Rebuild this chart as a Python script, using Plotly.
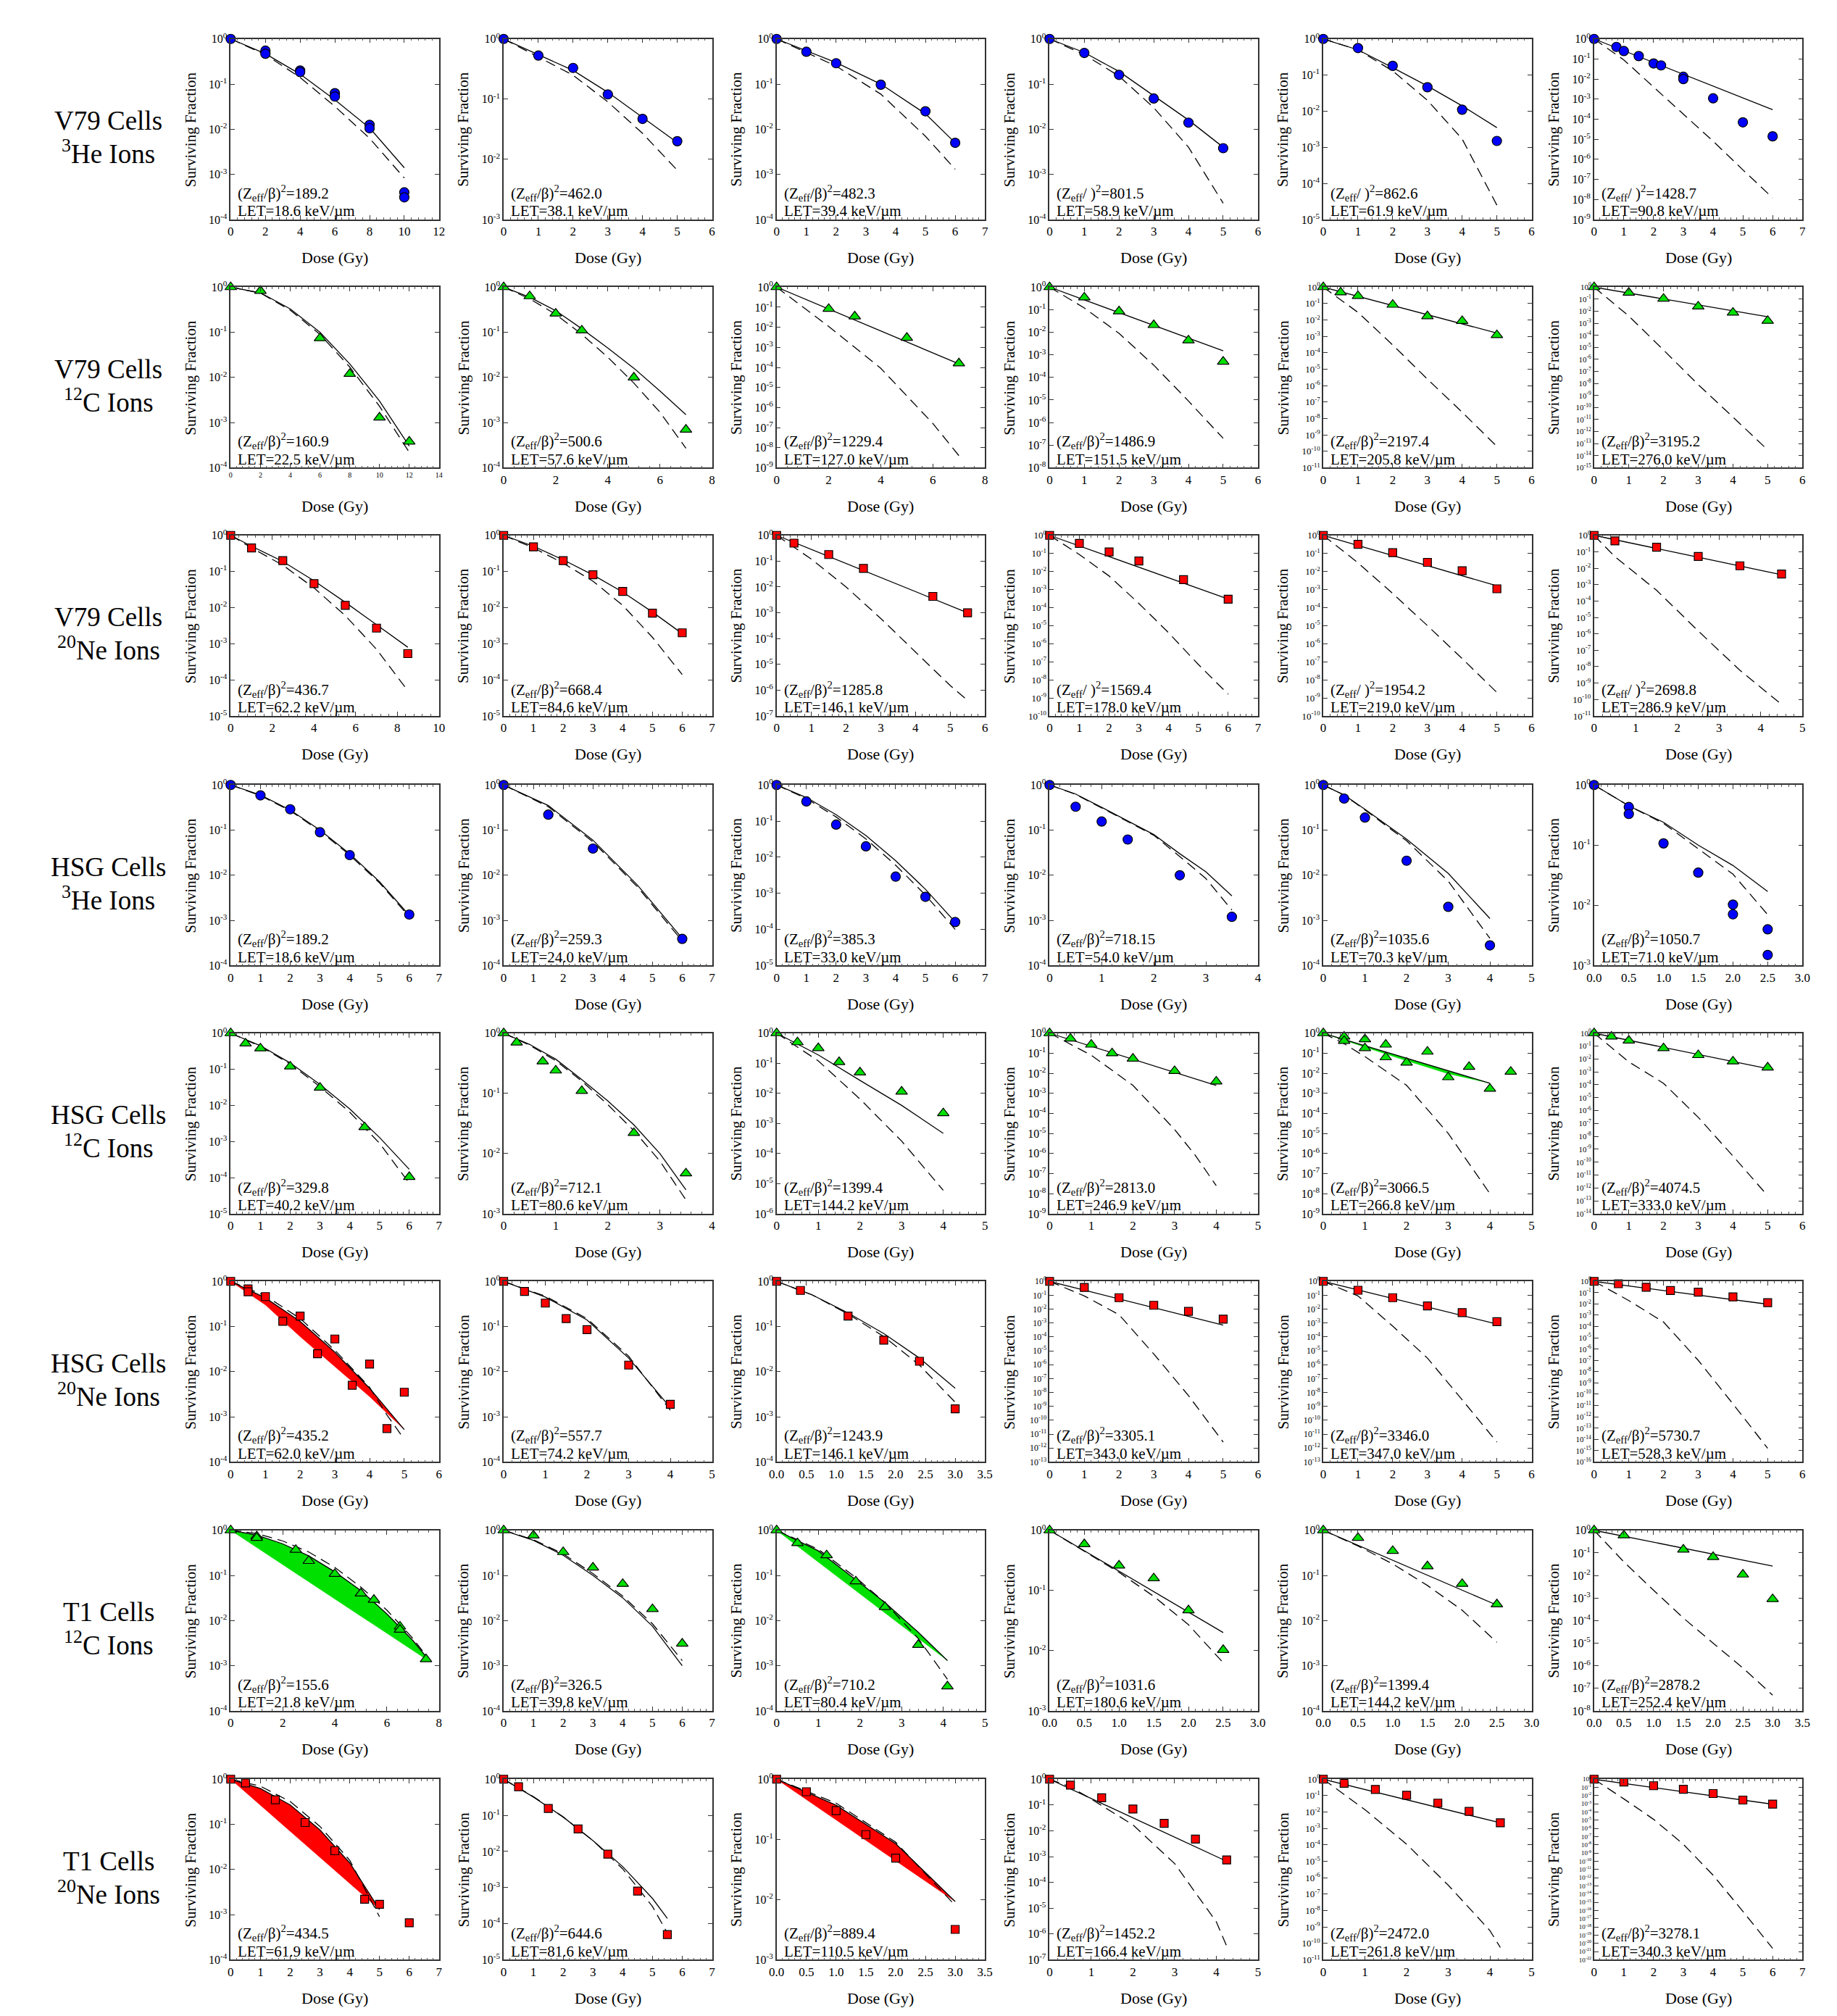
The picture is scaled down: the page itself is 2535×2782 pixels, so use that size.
import plotly.graph_objects as go

# ---------------- data (row-major: 8 rows x 6 panels) ----------------
cell_lines = ["V79 Cells", "V79 Cells", "V79 Cells", "HSG Cells", "HSG Cells", "HSG Cells", "T1 Cells", "T1 Cells"]
ion_mass = ["3", "12", "20", "3", "12", "20", "12", "20"]
ion_name = ["He", "C", "Ne", "He", "C", "Ne", "C", "Ne"]

x_max = [12, 6, 7, 6, 6, 7,
         14, 8, 8, 6, 6, 6,
         10, 7, 6, 7, 6, 5,
         7, 7, 7, 4, 5, 3,
         7, 4, 5, 5, 5, 6,
         6, 5, 3.5, 6, 6, 6,
         8, 7, 5, 3, 3, 3.5,
         7, 7, 3.5, 5, 5, 7]
x_step = [2, 1, 1, 1, 1, 1,
          2, 2, 2, 1, 1, 1,
          2, 1, 1, 1, 1, 1,
          1, 1, 1, 1, 1, 0.5,
          1, 1, 1, 1, 1, 1,
          1, 1, 0.5, 1, 1, 1,
          2, 1, 1, 0.5, 0.5, 0.5,
          1, 1, 0.5, 1, 1, 1]
y_decades = [4, 3, 4, 4, 5, 9,
             4, 4, 9, 8, 11, 15,
             5, 5, 7, 10, 10, 11,
             4, 4, 5, 4, 4, 3,
             5, 3, 6, 9, 9, 14,
             4, 4, 4, 13, 13, 16,
             4, 4, 4, 3, 4, 8,
             4, 5, 3, 7, 11, 22]
zeff_sq = ["189.2", "462.0", "482.3", "801.5", "862.6", "1428.7",
           "160.9", "500.6", "1229.4", "1486.9", "2197.4", "3195.2",
           "436.7", "668.4", "1285.8", "1569.4", "1954.2", "2698.8",
           "189.2", "259.3", "385.3", "718.15", "1035.6", "1050.7",
           "329.8", "712.1", "1399.4", "2813.0", "3066.5", "4074.5",
           "435.2", "557.7", "1243.9", "3305.1", "3346.0", "5730.7",
           "155.6", "326.5", "710.2", "1031.6", "1399.4", "2878.2",
           "434.5", "644.6", "889.4", "1452.2", "2472.0", "3278.1"]
let_kev = ["18.6", "38.1", "39.4", "58.9", "61.9", "90.8",
           "22.5", "57.6", "127.0", "151.5", "205.8", "276.0",
           "62.2", "84.6", "146.1", "178.0", "219.0", "286.9",
           "18.6", "24.0", "33.0", "54.0", "70.3", "71.0",
           "40.2", "80.6", "144.2", "246.9", "266.8", "333.0",
           "62.0", "74.2", "146.1", "343.0", "347.0", "528.3",
           "21.8", "39.8", "80.4", "180.6", "144.2", "252.4",
           "61.9", "81.6", "110.5", "166.4", "261.8", "340.3"]
beta_glyph = ["β", "β", "β", " ", " ", " ",
              "β", "β", "β", "β", "β", "β",
              "β", "β", "β", " ", " ", " ",
              "β", "β", "β", "β", "β", "β",
              "β", "β", "β", "β", "β", "β",
              "β", "β", "β", "β", "β", "β",
              "β", "β", "β", "β", "β", "β",
              "β", "β", "β", "β", "β", "β"]

dose_data = [
    [0, 2, 2, 4, 4, 6, 6, 8, 8, 10, 10],
    [0, 1, 2, 3, 4, 5],
    [0, 1, 2, 3.5, 5, 6],
    [0, 1, 2, 3, 4, 5],
    [0, 1, 2, 3, 4, 5],
    [0, 0.75, 1, 1.5, 2, 2.25, 3, 3, 4, 5, 6],
    [0, 2, 6, 8, 10, 12],
    [0, 1, 2, 3, 5, 7],
    [0, 2, 3, 5, 7],
    [0, 1, 2, 3, 4, 5],
    [0, 0.5, 1, 2, 3, 4, 5],
    [0, 1, 2, 3, 4, 5],
    [0, 1, 2.5, 4, 5.5, 7, 8.5],
    [0, 1, 2, 3, 4, 5, 6],
    [0, 0.5, 1.5, 2.5, 4.5, 5.5],
    [0, 1, 2, 3, 4.5, 6],
    [0, 1, 2, 3, 4, 5],
    [0, 0.5, 1.5, 2.5, 3.5, 4.5],
    [0, 1, 2, 3, 4, 6],
    [0, 1.5, 3, 6],
    [0, 1, 2, 3, 4, 5, 6],
    [0, 0.5, 1, 1.5, 2.5, 3.5],
    [0, 0.5, 1, 2, 3, 4],
    [0, 0.5, 0.5, 1, 1.5, 2, 2, 2.5, 2.5],
    [0, 0.5, 1, 2, 3, 4.5, 6],
    [0, 0.25, 0.75, 1, 1.5, 2.5, 3.5],
    [0, 0.5, 1, 1.5, 2, 3, 4],
    [0, 0.5, 1, 1.5, 2, 3, 4],
    [0, 0.5, 0.5, 1, 1, 1.5, 1.5, 2, 2.5, 3, 3.5, 4, 4.5],
    [0, 0.5, 1, 2, 3, 4, 5],
    [0, 0.5, 0.5, 1, 1.5, 2, 2.5, 3, 3.5, 4, 4.5, 5],
    [0, 0.5, 1, 1.5, 2, 3, 4],
    [0, 0.4, 1.2, 1.8, 2.4, 3.0],
    [0, 1, 2, 3, 4, 5],
    [0, 1, 2, 3, 4, 5],
    [0, 0.7, 1.5, 2.2, 3, 4, 5],
    [0, 1, 1, 2.5, 3, 4, 5, 5.5, 6.5, 6.5, 7.5],
    [0, 1, 2, 3, 4, 5, 6],
    [0, 0.5, 1.2, 1.9, 2.6, 3.4, 4.1],
    [0, 0.5, 1, 1.5, 2, 2.5],
    [0, 0.5, 1, 1.5, 2, 2.5],
    [0, 0.5, 1.5, 2, 2.5, 3],
    [0, 0.5, 1.5, 2.5, 3.5, 4.5, 5, 6],
    [0, 0.5, 1.5, 2.5, 3.5, 4.5, 5.5],
    [0, 0.5, 1, 1.5, 2, 3],
    [0, 0.5, 1.25, 2, 2.75, 3.5, 4.25],
    [0, 0.5, 1.25, 2, 2.75, 3.5, 4.25],
    [0, 1, 2, 3, 4, 5, 6],
]
sf_data = [
    [1, 0.55, 0.47, 0.2, 0.185, 0.063, 0.053, 0.0125, 0.0105, 4e-4, 3.1e-4],
    [1, 0.53, 0.33, 0.12, 0.047, 0.02],
    [1, 0.52, 0.29, 0.097, 0.025, 0.005],
    [1, 0.49, 0.16, 0.048, 0.014, 0.0038],
    [1, 0.56, 0.18, 0.046, 0.011, 0.0015],
    [1, 0.4, 0.25, 0.14, 0.06, 0.048, 0.013, 0.01, 0.0011, 7e-5, 1.4e-5],
    [1, 0.83, 0.074, 0.012, 0.0013, 3.8e-4],
    [1, 0.63, 0.26, 0.11, 0.01, 7e-4],
    [1, 0.083, 0.035, 0.003, 1.6e-4],
    [1, 0.35, 0.085, 0.021, 0.0044, 5e-4],
    [1, 0.48, 0.29, 0.085, 0.017, 0.0087, 1.2e-3],
    [1, 0.35, 0.11, 0.025, 0.0076, 1.6e-3],
    [1, 0.45, 0.2, 0.046, 0.0115, 0.0027, 5.3e-4],
    [1, 0.48, 0.2, 0.081, 0.028, 0.007, 0.002],
    [1, 0.5, 0.18, 0.052, 4.3e-3, 1e-3],
    [1, 0.36, 0.12, 0.038, 3.5e-3, 2.9e-4],
    [1, 0.32, 0.11, 0.032, 0.011, 1.1e-3],
    [1, 0.46, 0.19, 0.052, 0.014, 4.4e-3],
    [1, 0.59, 0.29, 0.09, 0.028, 1.35e-3],
    [1, 0.22, 0.039, 3.9e-4],
    [1, 0.35, 0.08, 0.02, 0.0029, 8e-4, 1.6e-4],
    [1, 0.33, 0.155, 0.062, 0.01, 1.2e-3],
    [1, 0.5, 0.19, 0.021, 2e-3, 2.8e-4],
    [1, 0.43, 0.33, 0.107, 0.035, 0.0103, 0.0071, 0.004, 0.0015],
    [1, 0.52, 0.38, 0.12, 0.031, 2.5e-3, 1.05e-4],
    [1, 0.7, 0.34, 0.24, 0.11, 0.022, 4.7e-3],
    [1, 0.5, 0.32, 0.11, 0.05, 0.0115, 2.2e-3],
    [1, 0.54, 0.27, 0.1, 0.054, 0.013, 3.9e-3],
    [1, 0.68, 0.41, 0.5, 0.18, 0.27, 0.063, 0.034, 0.12, 6.4e-3, 0.021, 1.7e-3, 0.012],
    [1, 0.55, 0.27, 0.069, 0.02, 6.5e-3, 2.2e-3],
    [1, 0.68, 0.59, 0.46, 0.13, 0.17, 0.025, 0.053, 5e-3, 0.0147, 5.5e-4, 3.5e-3],
    [1, 0.6, 0.33, 0.15, 0.085, 0.014, 1.9e-3],
    [1, 0.63, 0.17, 0.05, 0.017, 1.5e-3],
    [1, 0.37, 0.067, 0.019, 6.9e-3, 1.9e-3],
    [1, 0.23, 0.067, 0.017, 5.7e-3, 1.25e-3],
    [1, 0.62, 0.3, 0.155, 0.11, 0.042, 0.013],
    [1, 0.74, 0.68, 0.37, 0.21, 0.108, 0.04, 0.029, 7.4e-3, 6.3e-3, 1.4e-3],
    [1, 0.77, 0.33, 0.15, 0.065, 0.018, 3.1e-3],
    [1, 0.52, 0.28, 0.074, 0.02, 2.9e-3, 3.5e-4],
    [1, 0.59, 0.26, 0.16, 0.047, 0.0103],
    [1, 0.68, 0.35, 0.16, 0.065, 0.023],
    [1, 0.6, 0.14, 0.066, 0.011, 9e-4],
    [1, 0.83, 0.35, 0.11, 0.026, 2.2e-3, 1.7e-3, 6.6e-4],
    [1, 0.62, 0.155, 0.042, 8.4e-3, 8e-4, 5e-5],
    [1, 0.62, 0.3, 0.12, 0.049, 3.2e-3],
    [1, 0.59, 0.19, 0.07, 0.0195, 4.8e-3, 7.4e-4],
    [1, 0.56, 0.24, 0.105, 0.035, 0.011, 2.2e-3],
    [1, 0.45, 0.16, 0.06, 0.018, 2.9e-3, 9.3e-4],
]

# solid curves (fits)
fit_dose = [
    [0, 2, 4, 6, 8, 10], [0, 1, 2, 3, 4, 5], [0, 1, 2, 3.5, 5, 6],
    [0, 1, 2, 3, 4, 5], [0, 1, 2, 3, 4, 5], [0, 6],
    [0, 2, 4, 6, 8, 10, 12], [0, 1, 2, 3, 4, 5, 6, 7], [0, 7],
    [0, 5], [0, 5], [0, 5],
    [0, 1, 2.5, 4, 5.5, 7, 8.5], [0, 1, 2, 3, 4, 5, 6], [0, 5.5],
    [0, 6], [0, 5], [0, 4.5],
    [0, 1, 2, 3, 4, 5, 6], [0, 1.5, 3, 4.5, 6], [0, 1, 2, 3, 4, 5, 6],
    [0, 0.5, 1, 1.5, 2, 2.5, 3, 3.5], [0, 0.5, 1, 2, 3, 4], [0, 0.5, 1, 1.5, 2, 2.5],
    [0, 1, 2, 3, 4, 5, 6], [0, 0.5, 1, 1.5, 2, 2.5, 3, 3.5], [0, 1, 2, 3, 4],
    [0, 4], [0, 4], [0, 5],
    [0, 1, 2, 3, 4, 5], [0, 1, 2, 3, 4], [0, 0.6, 1.2, 1.8, 2.4, 3],
    [0, 5], [0, 5], [0, 5],
    [0, 1, 2, 3, 4, 5, 6, 7, 7.5], [0, 1, 2, 3, 4, 5, 6], [0, 0.5, 1, 1.9, 2.6, 3.4, 4.1],
    [0, 2.5], [0, 2.5], [0, 3],
    [0, 1, 2, 3, 4, 5], [0, 1, 2, 3, 4, 5, 5.5], [0, 1, 2, 3],
    [0, 4.25], [0, 4.25], [0, 6],
]
fit_sf = [
    [1, 0.47, 0.166, 0.045, 0.0107, 1.4e-3], [1, 0.55, 0.3, 0.13, 0.05, 0.019], [1, 0.55, 0.3, 0.1, 0.022, 0.005],
    [1, 0.5, 0.19, 0.055, 0.016, 0.004], [1, 0.5, 0.16, 0.05, 0.014, 0.0035], [1, 3e-4],
    [1, 0.75, 0.33, 0.1, 0.02, 0.003, 3e-4], [1, 0.6, 0.3, 0.12, 0.045, 0.016, 0.005, 0.0015], [1, 1.5e-4],
    [1, 1.5e-3], [1, 1.6e-3], [1, 3.5e-3],
    [1, 0.5, 0.19, 0.055, 0.014, 0.0033, 8e-4], [1, 0.5, 0.21, 0.08, 0.027, 0.0075, 0.0019], [1, 1e-3],
    [1, 3e-4], [1, 1.6e-3], [1, 4e-3],
    [1, 0.6, 0.28, 0.1, 0.03, 0.0072, 0.0013], [1, 0.35, 0.06, 0.006, 4e-4], [1, 0.45, 0.15, 0.04, 0.008, 0.0013, 1.6e-4],
    [1, 0.63, 0.32, 0.16, 0.08, 0.03, 0.012, 0.0035], [1, 0.6, 0.29, 0.063, 0.011, 1.1e-3], [1, 0.45, 0.24, 0.1, 0.046, 0.017],
    [1, 0.45, 0.15, 0.038, 0.008, 0.0013, 1.7e-4], [1, 0.65, 0.37, 0.17, 0.075, 0.03, 0.01, 0.0025], [1, 0.19, 0.027, 4e-3, 4.7e-4],
    [1, 2.5e-3], [1, 3.2e-3], [1, 1.8e-3],
    [1, 0.43, 0.13, 0.027, 4.3e-3, 5.2e-4], [1, 0.45, 0.14, 0.02, 1.6e-3], [1, 0.5, 0.2, 0.07, 0.02, 0.0043],
    [1, 7e-4], [1, 8.5e-4], [1, 9.5e-3],
    [1, 0.78, 0.5, 0.27, 0.12, 0.046, 0.014, 3.6e-3, 1.6e-3], [1, 0.6, 0.28, 0.1, 0.032, 0.0075, 0.001], [1, 0.6, 0.35, 0.08, 0.025, 0.0055, 0.0013],
    [1, 0.02], [1, 0.022], [1, 0.026],
    [1, 0.62, 0.27, 0.075, 0.014, 1.3e-3], [1, 0.32, 0.09, 0.02, 0.0038, 5e-4, 1.4e-4], [1, 0.37, 0.085, 9.3e-3],
    [1, 6.6e-4], [1, 2.2e-3], [1, 9e-4],
]

# dashed curves (model predictions)
model_dose = [
    [0, 2, 4, 6, 8, 10], [0, 1, 2, 3, 4, 5], [0, 1, 2, 3.5, 5, 6],
    [0, 1, 2, 3, 4, 5], [0, 1, 2, 3, 4, 5], [0, 1, 2, 3, 4, 5, 6],
    [0, 2, 4, 6, 8, 10, 12], [0, 1, 2, 3, 4, 5, 6, 7], [0, 2, 4, 6, 7],
    [0, 1, 2, 3, 4, 5], [0, 1, 2, 3, 4, 5], [0, 1, 2, 3, 4, 5],
    [0, 1, 2.5, 4, 5.5, 7, 8.5], [0, 1, 2, 3, 4, 5, 6], [0, 1, 2, 3, 4, 5, 5.5],
    [0, 1, 2, 3, 4, 5, 6], [0, 1, 2, 3, 4, 5], [0, 0.5, 1.5, 2.5, 3.5, 4.5],
    [0, 1, 2, 3, 4, 5, 6], [0, 1.5, 3, 4.5, 6], [0, 1, 2, 3, 4, 5, 6],
    [0, 0.5, 1, 1.5, 2, 2.5, 3, 3.5], [0, 0.5, 1, 2, 3, 4], [0, 0.5, 1, 1.5, 2, 2.5],
    [0, 1, 2, 3, 4, 5, 6], [0, 0.5, 1, 1.5, 2, 2.5, 3, 3.5], [0, 1, 2, 3, 4],
    [0, 1, 2, 3, 3.5, 4], [0, 0.5, 1, 2, 3, 4], [0, 1, 2, 3, 4, 5],
    [0, 1, 2, 3, 4, 4.5, 4.95], [0, 1, 2, 3, 4], [0, 0.6, 1.2, 1.8, 2.4, 3],
    [0, 1, 2, 3, 4, 5], [0, 1, 2, 3, 4, 5], [0, 1, 2, 3, 4, 5],
    [0, 1, 2, 3, 4, 5, 6, 7, 7.5], [0, 1, 2, 3, 4, 5, 6], [0, 0.5, 1, 1.9, 2.6, 3.4, 4.1],
    [0, 0.5, 1, 1.5, 2, 2.5], [0, 0.5, 1, 1.5, 2, 2.5], [0, 0.5, 1, 1.5, 2, 2.5, 3],
    [0, 1, 2, 3, 4, 5], [0, 1, 2, 3, 4, 5, 5.5], [0, 1, 2, 3],
    [0, 0.5, 1, 2, 3, 4, 4.25], [0, 0.5, 1, 2, 3, 4, 4.25], [0, 1, 2, 3, 4, 5, 6],
]
model_sf = [
    [1, 0.45, 0.14, 0.032, 0.0063, 8.3e-4], [1, 0.5, 0.25, 0.09, 0.027, 0.0066], [1, 0.5, 0.25, 0.06, 0.007, 0.0013],
    [1, 0.45, 0.15, 0.03, 0.004, 2.3e-4], [1, 0.5, 0.13, 0.02, 0.0017, 2.5e-5], [1, 0.09, 4e-3, 1.8e-4, 8e-6, 3e-7, 1.2e-8],
    [1, 0.74, 0.31, 0.09, 0.017, 0.0023, 2.2e-4], [1, 0.55, 0.25, 0.09, 0.028, 0.0075, 0.0017, 2.7e-4], [1, 0.011, 9e-5, 1.6e-7, 4e-9],
    [1, 0.12, 0.009, 3.5e-4, 9e-6, 2e-7], [1, 0.029, 3e-4, 2.5e-6, 2.4e-8, 2e-10], [1, 4e-3, 6e-6, 8e-9, 1.6e-11, 3e-14],
    [1, 0.45, 0.15, 0.035, 0.006, 7e-4, 5e-5], [1, 0.45, 0.17, 0.054, 0.0115, 0.0015, 1.4e-4], [1, 0.12, 0.01, 6e-4, 3e-5, 1.5e-6, 4e-7],
    [1, 0.087, 5.6e-3, 1.7e-4, 4e-6, 7e-8, 1.6e-9], [1, 0.03, 6e-4, 1e-5, 1.5e-7, 2e-9], [1, 0.05, 4.5e-4, 1.5e-6, 6e-9, 5e-11],
    [1, 0.58, 0.27, 0.095, 0.028, 0.0068, 0.0012], [1, 0.33, 0.055, 0.0055, 3.5e-4], [1, 0.42, 0.13, 0.032, 0.006, 9e-4, 1e-4],
    [1, 0.62, 0.31, 0.155, 0.077, 0.026, 0.0085, 0.0017], [1, 0.6, 0.28, 0.058, 0.0074, 4e-4], [1, 0.45, 0.23, 0.087, 0.033, 0.007],
    [1, 0.43, 0.14, 0.033, 0.0065, 9e-4, 7e-5], [1, 0.63, 0.35, 0.16, 0.065, 0.024, 0.0075, 0.0017], [1, 0.12, 6.5e-3, 2.6e-4, 6e-6],
    [1, 0.08, 2.5e-3, 1.6e-5, 8e-7, 2.5e-8], [1, 0.3, 0.068, 2.5e-3, 1e-5, 1e-8], [1, 6e-3, 1.3e-4, 3e-7, 3e-10, 2.5e-13],
    [1, 0.48, 0.15, 0.03, 4.5e-3, 1.1e-3, 3.6e-4], [1, 0.47, 0.15, 0.022, 1.4e-3], [1, 0.5, 0.19, 0.06, 0.014, 0.0021],
    [1, 0.09, 4e-3, 6e-6, 6e-9, 2.7e-12], [1, 0.09, 6e-4, 3e-6, 3e-9, 2.7e-12], [1, 0.02, 2.5e-4, 1e-7, 1.4e-11, 1.6e-15],
    [1, 0.85, 0.58, 0.33, 0.15, 0.055, 0.017, 4e-3, 1.7e-3], [1, 0.62, 0.3, 0.11, 0.035, 0.0085, 0.0013], [1, 0.62, 0.38, 0.09, 0.025, 0.004, 5e-4],
    [1, 0.45, 0.2, 0.08, 0.027, 0.0063], [1, 0.45, 0.18, 0.06, 0.017, 0.0033], [1, 0.04, 0.0022, 1.3e-4, 1e-5, 8e-7, 5e-8],
    [1, 0.7, 0.32, 0.09, 0.016, 9e-4], [1, 0.33, 0.09, 0.02, 0.0033, 3e-4, 5.5e-5], [1, 0.4, 0.09, 8e-3],
    [1, 0.5, 0.17, 0.017, 5.4e-4, 3e-6, 3.4e-7], [1, 0.12, 0.014, 1.1e-4, 3.5e-7, 6e-10, 5.6e-11], [1, 4e-3, 1.3e-5, 1.2e-8, 2e-12, 8e-17, 2.5e-21],
]

# lower edges of the shaded bands (upper edge is the fit); panel index -> values
band_panels = [28, 30, 36, 38, 42, 44]
band_dose = [[0, 1, 2, 3, 4], [0, 1, 2, 3, 4, 5], [0, 7.5], [0, 4.1], [0, 5], [0, 3]]
band_sf = [[1, 0.2, 0.042, 0.0095, 0.0032], [1, 0.3, 0.06, 0.013, 0.0028, 5.2e-4], [1, 1.4e-3],
           [1, 1.3e-3], [1, 1.3e-3], [1, 9.3e-3]]

# ---------------- layout geometry / styles ----------------
PAGE_W, PAGE_H = 2535, 2782
BODY_MARGIN = 8
W, H = PAGE_W - 2 * BODY_MARGIN, PAGE_H - 2 * BODY_MARGIN
col_left = [310, 690, 1070, 1450, 1831, 2208]
row_top = [43, 388, 733, 1080, 1425, 1770, 2116, 2462]
PW, PH = 290, 251
FONT = "Liberation Serif, Times New Roman, serif"
ion_style = {
    "He": dict(symbol="circle", color="#0000FF", size=13),
    "C": dict(symbol="triangle-up", color="#00E000", size=14),
    "Ne": dict(symbol="square", color="#FF0000", size=11),
}
band_color = {"C": "#00E000", "Ne": "#FF0000"}


def px(x):
    return (x - BODY_MARGIN) / W


def py(y):
    return 1 - (y - BODY_MARGIN) / H


def ytick_size(n):
    if n <= 9:
        return 16
    if n <= 11:
        return 13
    if n <= 13:
        return 12
    if n <= 16:
        return 11
    return 9


fig = go.Figure()
annotations = []
layout_axes = {}

for r in range(8):
    ion = ion_name[r]
    sty = ion_style[ion]
    top = row_top[r]
    # row labels
    annotations.append(dict(text=cell_lines[r], x=px(140), y=py(top + 114), xref="paper", yref="paper",
                            xanchor="center", yanchor="middle", showarrow=False,
                            font=dict(family=FONT, size=37, color="black")))
    annotations.append(dict(text="<sup>%s</sup>%s Ions" % (ion_mass[r], ion), x=px(140), y=py(top + 157),
                            xref="paper", yref="paper", xanchor="center", yanchor="middle", showarrow=False,
                            font=dict(family=FONT, size=37, color="black")))
    for c in range(6):
        i = r * 6 + c
        k = i + 1
        xa = "x" if k == 1 else "x%d" % k
        ya = "y" if k == 1 else "y%d" % k
        left = col_left[c]
        n = y_decades[i]
        step = x_step[i]
        xm = x_max[i]

        # band
        if i in band_panels:
            b = band_panels.index(i)
            bx = list(fit_dose[i]) + list(reversed(band_dose[b]))
            by = list(fit_sf[i]) + list(reversed(band_sf[b]))
            fig.add_trace(go.Scatter(x=bx, y=by, xaxis=xa, yaxis=ya, mode="lines", fill="toself",
                                     fillcolor=band_color[ion], line=dict(color=band_color[ion], width=0.5),
                                     hoverinfo="skip", showlegend=False))
        # model (dashed)
        fig.add_trace(go.Scatter(x=model_dose[i], y=model_sf[i], xaxis=xa, yaxis=ya, mode="lines",
                                 line=dict(color="black", width=1.3, dash="14px,8px"), showlegend=False,
                                 cliponaxis=False))
        # fit (solid)
        fig.add_trace(go.Scatter(x=fit_dose[i], y=fit_sf[i], xaxis=xa, yaxis=ya, mode="lines",
                                 line=dict(color="black", width=1.3), showlegend=False, cliponaxis=False))
        # data
        fig.add_trace(go.Scatter(x=dose_data[i], y=sf_data[i], xaxis=xa, yaxis=ya, mode="markers",
                                 marker=dict(symbol=sty["symbol"], size=sty["size"], color=sty["color"],
                                             line=dict(color="black", width=1.2)),
                                 showlegend=False, cliponaxis=False))

        nt = int(round(xm / step))
        xt = [round(j * step, 3) for j in range(nt + 1)]
        if step < 1:
            xtt = ["%.1f" % v for v in xt]
        else:
            xtt = ["%d" % v for v in xt]
        xfs = 10 if i == 6 else 17
        layout_axes["xaxis" if k == 1 else "xaxis%d" % k] = dict(
            domain=[px(left), px(left + PW)], anchor=ya, range=[0, xm],
            tickmode="array", tickvals=xt, ticktext=xtt,
            ticks="inside", ticklen=6, tickcolor="#333", tickwidth=1,
            minor=dict(ticks="inside", ticklen=3, dtick=step / 5, tick0=0, tickcolor="#555"),
            showline=True, linecolor="#333", linewidth=1.5, mirror="allticks",
            showgrid=False, zeroline=False,
            tickfont=dict(family=FONT, size=xfs, color="black"),
        )
        yv = [10.0 ** (-j) for j in range(n + 1)]
        yt = ["10<sup>%d</sup>" % (-j) for j in range(n + 1)]
        layout_axes["yaxis" if k == 1 else "yaxis%d" % k] = dict(
            domain=[py(top + PH), py(top)], anchor=xa, type="log", range=[-n, 0],
            tickmode="array", tickvals=yv, ticktext=yt,
            ticks="inside", ticklen=6, tickcolor="#333", tickwidth=1,
            showline=True, linecolor="#333", linewidth=1.5, mirror="allticks",
            showgrid=False, zeroline=False,
            tickfont=dict(family=FONT, size=ytick_size(n), color="black"),
        )
        # axis titles
        annotations.append(dict(text="Dose (Gy)", x=px(left + PW / 2), y=py(top + PH + 53), xref="paper",
                                yref="paper", xanchor="center", yanchor="middle", showarrow=False,
                                font=dict(family=FONT, size=22, color="black")))
        annotations.append(dict(text="Surviving Fraction", x=px(left - 56), y=py(top + PH / 2), xref="paper",
                                yref="paper", xanchor="center", yanchor="middle", textangle=-90, showarrow=False,
                                font=dict(family=FONT, size=21, color="black")))
        # in-panel text
        annotations.append(dict(text="(Z<sub>eff</sub>/%s)<sup>2</sup>=%s" % (beta_glyph[i], zeff_sq[i]),
                                x=px(left + 8), y=py(top + PH - 37), xref="paper", yref="paper",
                                xanchor="left", yanchor="middle", showarrow=False,
                                font=dict(family=FONT, size=21, color="black")))
        annotations.append(dict(text="LET=%s keV/µm" % let_kev[i],
                                x=px(left + 8), y=py(top + PH - 12), xref="paper", yref="paper",
                                xanchor="left", yanchor="middle", showarrow=False,
                                font=dict(family=FONT, size=21, color="black")))

fig.update_layout(
    width=W, height=H, autosize=False,
    margin=dict(l=0, r=0, t=0, b=0),
    paper_bgcolor="white", plot_bgcolor="white",
    showlegend=False,
    annotations=annotations,
    font=dict(family=FONT, color="black"),
    **layout_axes,
)

fig.write_html("out.html")
